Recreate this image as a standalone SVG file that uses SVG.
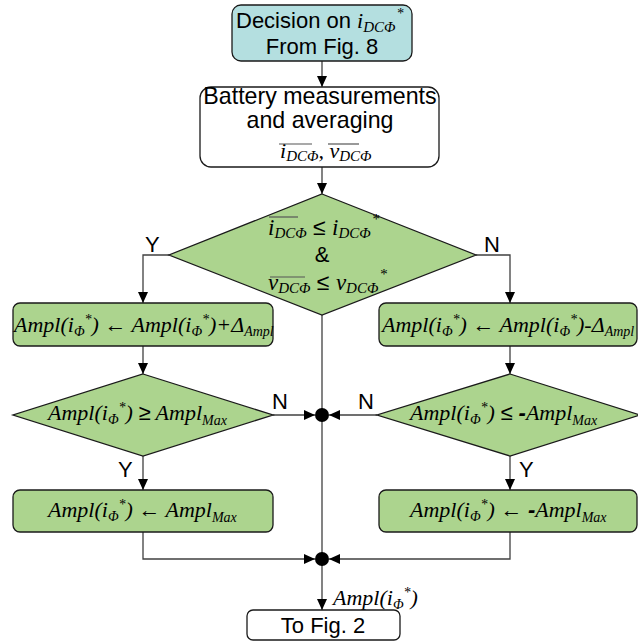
<svg xmlns="http://www.w3.org/2000/svg" width="638" height="644" viewBox="0 0 638 644">
<style>
.box{stroke:#1a1a1a;stroke-width:1.3}
.g{fill:#acd48e}
.c{fill:#b4dfe0}
.w{fill:#ffffff}
.sans{font-family:"Liberation Sans",Arial,sans-serif;font-size:22px;fill:#000}
.m{font-family:"Liberation Serif","Times New Roman",serif;font-style:italic;font-size:22px;fill:#000}
.ov{stroke:#555;stroke-width:1.2}
.ln{fill:none;stroke:#404040;stroke-width:1.3}
</style>
<defs>
<marker id="ah" markerWidth="12" markerHeight="12" refX="11" refY="6" orient="auto" markerUnits="userSpaceOnUse">
<path d="M0,1 L11,6 L0,11 Z" fill="#000"/>
</marker>
</defs>
<g id="connectors">
<path class="ln" d="M322,61 V87" marker-end="url(#ah)"/>
<path class="ln" d="M322,167 V194" marker-end="url(#ah)"/>
<path class="ln" d="M169,255 H143 V303" marker-end="url(#ah)"/>
<path class="ln" d="M476,255 H510 V303" marker-end="url(#ah)"/>
<path class="ln" d="M143,346 V374" marker-end="url(#ah)"/>
<path class="ln" d="M510,346 V374" marker-end="url(#ah)"/>
<path class="ln" d="M273,415 H315" marker-end="url(#ah)"/>
<path class="ln" d="M377,415 H329" marker-end="url(#ah)"/>
<path class="ln" d="M143,456 V490" marker-end="url(#ah)"/>
<path class="ln" d="M510,456 V490" marker-end="url(#ah)"/>
<path class="ln" d="M322,315 V559"/>
<path class="ln" d="M143,532 V559 H315" marker-end="url(#ah)"/>
<path class="ln" d="M510,532 V559 H329" marker-end="url(#ah)"/>
<path class="ln" d="M322,559 V610" marker-end="url(#ah)"/>
<circle cx="322" cy="415" r="7" fill="#000"/>
<circle cx="322" cy="559" r="7" fill="#000"/>
<text class="sans" x="145" y="252">Y</text>
<text class="sans" x="484" y="252">N</text>
<text class="sans" x="272" y="409">N</text>
<text class="sans" x="358" y="409">N</text>
<text class="sans" x="118" y="477">Y</text>
<text class="sans" x="519" y="477">Y</text>
<text class="m" x="333" y="605">Ampl(i<tspan font-size="14" dy="4">Φ</tspan><tspan font-size="14" dy="-12">*</tspan><tspan dy="8">)</tspan></text>
</g>
<g id="start">
<rect class="box c" x="232" y="5" width="180" height="56" rx="9"/>
<text class="sans" x="236" y="28">Decision on <tspan class="m">i</tspan><tspan class="m" style="font-size:15px" dy="4">DCΦ</tspan><tspan class="m" style="font-size:14px" dx="1" dy="-14">*</tspan></text>
<text class="sans" x="322" y="54" text-anchor="middle">From Fig. 8</text>
</g>
<g id="measure">
<rect class="box w" x="200" y="87" width="239" height="80" rx="11"/>
<text class="sans" x="320" y="104" text-anchor="middle" style="font-size:23.2px">Battery measurements</text>
<text class="sans" x="320" y="128" text-anchor="middle" style="font-size:23.2px">and averaging</text>
<text class="m" x="280" y="158">i<tspan font-size="15" dy="3">DCΦ</tspan><tspan dy="-3">, v</tspan><tspan font-size="15" dy="3">DCΦ</tspan></text>
<line class="ov" x1="279" y1="144" x2="312" y2="144"/>
<line class="ov" x1="328" y1="144" x2="359" y2="144"/>
</g>
<g id="decision1">
<polygon class="box g" points="322,194 476,255 322,315 169,255"/>
<text class="m" x="268" y="235" style="font-size:23px">i<tspan font-size="15" dy="3">DCΦ</tspan><tspan class="sans" style="font-size:23px" dy="-3"> ≤ </tspan>i<tspan font-size="15" dy="3">DCΦ</tspan><tspan font-size="15" dx="1" dy="-14">*</tspan></text>
<line class="ov" x1="269" y1="217" x2="298" y2="217"/>
<text class="sans" x="322" y="262" text-anchor="middle">&amp;</text>
<text class="m" x="268" y="290" style="font-size:23px">v<tspan font-size="15" dy="3">DCΦ</tspan><tspan class="sans" style="font-size:23px" dy="-3"> ≤ </tspan>v<tspan font-size="15" dy="3">DCΦ</tspan><tspan font-size="15" dx="1" dy="-14">*</tspan></text>
<line class="ov" x1="270" y1="277" x2="305" y2="277"/>
</g>
<g id="inc">
<rect class="box g" x="13" y="303" width="260" height="43" rx="7"/>
<text class="m" x="14" y="332">Ampl(i<tspan font-size="14" dy="4">Φ</tspan><tspan font-size="14" dy="-12">*</tspan><tspan dy="8">) ← Ampl(i</tspan><tspan font-size="14" dy="4">Φ</tspan><tspan font-size="14" dy="-12">*</tspan><tspan dy="8">)+Δ</tspan><tspan font-size="14" dy="4">Ampl</tspan></text>
</g>
<g id="dec">
<rect class="box g" x="379" y="303" width="258" height="43" rx="7"/>
<text class="m" x="382" y="332">Ampl(i<tspan font-size="14" dy="4">Φ</tspan><tspan font-size="14" dy="-12">*</tspan><tspan dy="8">) ← Ampl(i</tspan><tspan font-size="14" dy="4">Φ</tspan><tspan font-size="14" dy="-12">*</tspan><tspan dy="8">)-Δ</tspan><tspan font-size="14" dy="4">Ampl</tspan></text>
</g>
<g id="checkmax">
<polygon class="box g" points="143,374 273,415 143,456 13,415"/>
<text class="m" x="48" y="420">Ampl(i<tspan font-size="14" dy="4">Φ</tspan><tspan font-size="14" dy="-12">*</tspan><tspan dy="8">) </tspan><tspan class="sans">≥</tspan> Ampl<tspan font-size="14" dy="5">Max</tspan></text>
</g>
<g id="checkmin">
<polygon class="box g" points="510,374 640,415 510,456 377,415"/>
<text class="m" x="410" y="420">Ampl(i<tspan font-size="14" dy="4">Φ</tspan><tspan font-size="14" dy="-12">*</tspan><tspan dy="8">) </tspan><tspan class="sans">≤ <tspan font-weight="bold">-</tspan></tspan>Ampl<tspan font-size="14" dy="5">Max</tspan></text>
</g>
<g id="setmax">
<rect class="box g" x="13" y="490" width="260" height="42" rx="7"/>
<text class="m" x="48" y="517">Ampl(i<tspan font-size="14" dy="4">Φ</tspan><tspan font-size="14" dy="-12">*</tspan><tspan dy="8">) ← Ampl</tspan><tspan font-size="14" dy="5">Max</tspan></text>
</g>
<g id="setmin">
<rect class="box g" x="379" y="490" width="258" height="42" rx="7"/>
<text class="m" x="410" y="517">Ampl(i<tspan font-size="14" dy="4">Φ</tspan><tspan font-size="14" dy="-12">*</tspan><tspan dy="8">) ← </tspan><tspan class="sans" font-weight="bold">-</tspan>Ampl<tspan font-size="14" dy="5">Max</tspan></text>
</g>
<g id="end">
<rect class="box w" x="247" y="610" width="153" height="30" rx="6"/>
<text class="sans" x="323" y="633" text-anchor="middle">To Fig. 2</text>
</g>
</svg>
